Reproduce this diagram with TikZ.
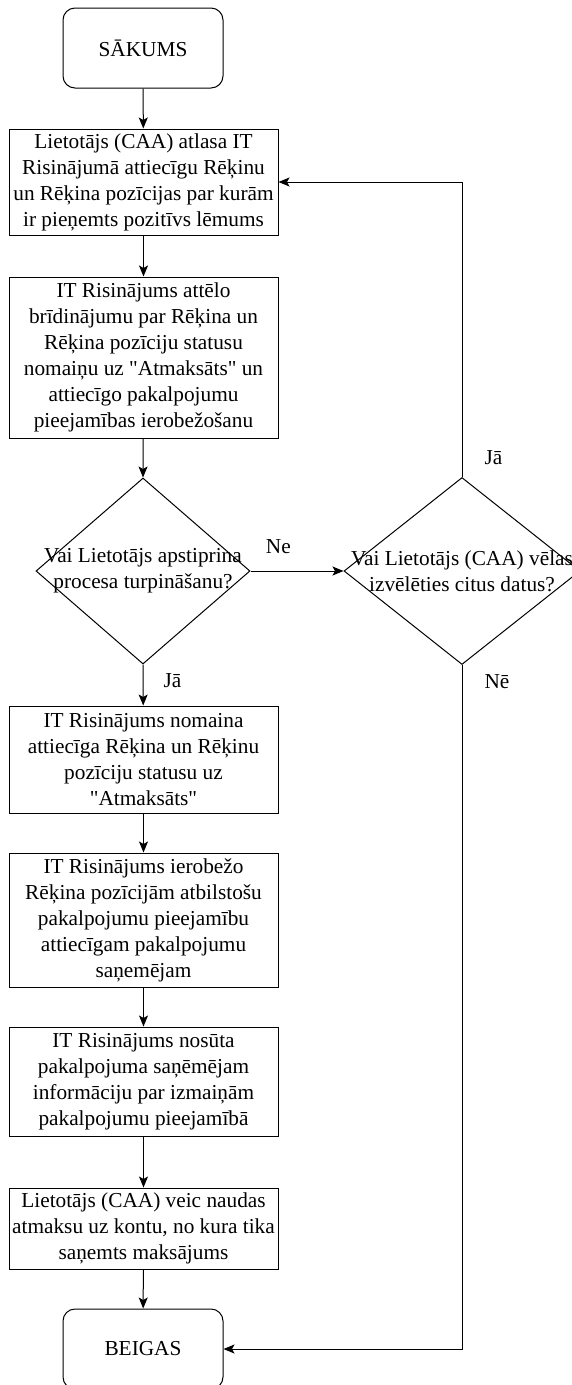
\documentclass[tikz,border=0pt]{standalone}
\usepackage{fontspec}
\setmainfont{Liberation Serif}[Ligatures=TeXOff]
\usetikzlibrary{arrows.meta,shapes.geometric}

\begin{document}
\begin{tikzpicture}[x=1pt,y=-1pt,line width=1pt,
  font=\fontsize{21.3}{26}\selectfont,
  term/.style={draw,rectangle,rounded corners=12pt,minimum width=160pt,minimum height=80pt},
  box/.style={draw,rectangle,minimum width=269pt,align=center,inner sep=2pt},
  decision/.style={draw,diamond,inner sep=0pt},
  arr/.style={-{Stealth[length=11pt,width=9pt,inset=2.5pt]}},
  lbl/.style={inner sep=2pt}]
  \useasboundingbox (0,0) rectangle (572,1385);
  \node[term] (start) at (143,48) {SĀKUMS};
  \node[box,minimum height=106pt] (sel) at (143.5,182) {Lietotājs (CAA) atlasa IT\\ Risinājumā attiecīgu Rēķinu\\ un Rēķina pozīcijas par kurām\\ ir pieņemts pozitīvs lēmums};
  \node[box,minimum height=161pt] (warn) at (143.5,357.5) {IT Risinājums attēlo\\ brīdinājumu par Rēķina un\\ Rēķina pozīciju statusu\\ nomaiņu uz "Atmaksāts" un\\ attiecīgo pakalpojumu\\ pieejamības ierobežošanu};
  \node[decision,minimum width=214pt,minimum height=186pt,
    label={[align=center]center:Vai Lietotājs apstiprina\\ procesa turpināšanu?}] (confirm) at (143,571) {};
  \node[decision,minimum width=236pt,minimum height=187pt,
    label={[align=center]center:Vai Lietotājs (CAA) vēlas\\ izvēlēties citus datus?}] (again) at (462,571) {};
  \node[box,minimum height=107pt] (status) at (143.5,759.5) {IT Risinājums nomaina\\ attiecīga Rēķina un Rēķinu\\ pozīciju statusu uz\\ "Atmaksāts"};
  \node[box,minimum height=134pt] (limit) at (143.5,920) {IT Risinājums ierobežo\\ Rēķina pozīcijām atbilstošu\\ pakalpojumu pieejamību\\ attiecīgam pakalpojumu\\ saņemējam};
  \node[box,minimum height=109pt] (notify) at (143.5,1081.5) {IT Risinājums nosūta\\ pakalpojuma saņēmējam\\ informāciju par izmaiņām\\ pakalpojumu pieejamībā};
  \node[box,minimum height=81pt] (refund) at (143.5,1228.5) {Lietotājs (CAA) veic naudas\\ atmaksu uz kontu, no kura tika\\ saņemts maksājums};
  \node[term] (end) at (143,1349) {BEIGAS};

  % main flow
  \draw[arr] (start) -- (sel);
  \draw[arr] (sel) -- (warn);
  \draw[arr] (warn) -- (confirm.north);
  \draw[arr] (confirm.south) -- node[lbl,pos=0.4,right=18pt] {Jā} (status);
  \draw[arr] (status) -- (limit);
  \draw[arr] (limit) -- (notify);
  \draw[arr] (notify) -- (refund);
  \draw[arr] (refund) -- (end);

  % decisions
  \draw[arr] (confirm.east) -- node[lbl,pos=0.3,above=15pt] {Ne} (again.west);
  \draw[arr] (again.north) |- node[lbl,pos=0.032,right=20pt] {Jā} (sel.east);
  \draw[arr] (again.south) |- node[lbl,pos=0.012,right=20pt] {Nē} (end.east);
\end{tikzpicture}
\end{document}
